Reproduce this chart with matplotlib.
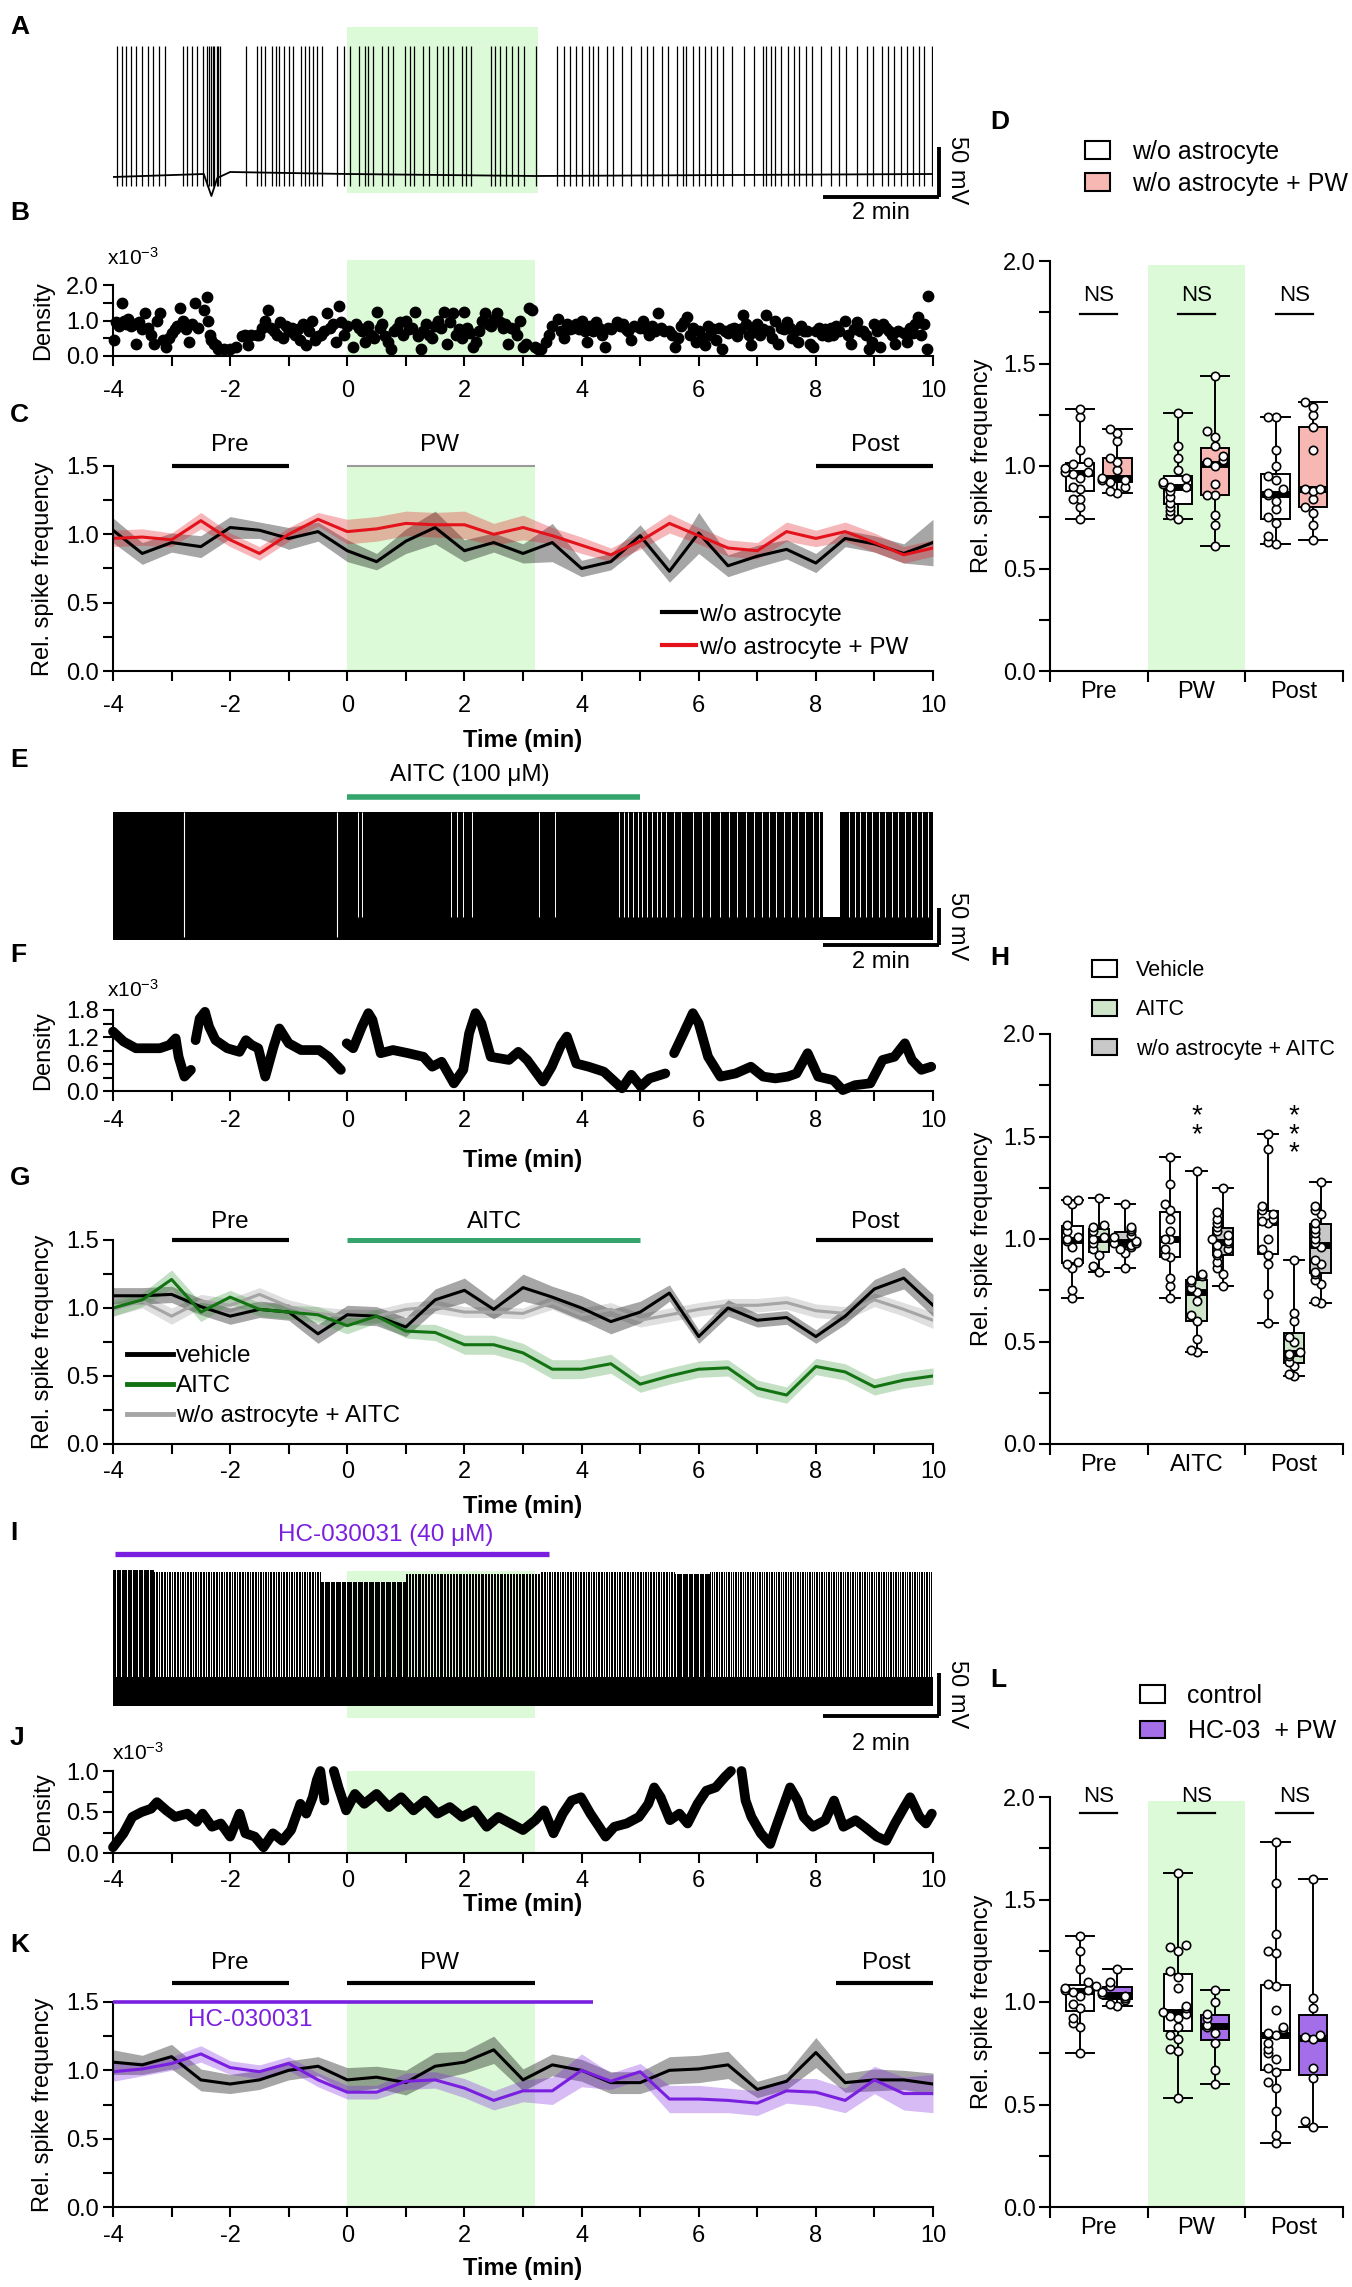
import numpy as np
import matplotlib
matplotlib.use("Agg")
import matplotlib.pyplot as plt
from matplotlib.lines import Line2D
from matplotlib.patches import Patch
from matplotlib.ticker import FormatStrFormatter

plt.rcParams["font.family"] = ["Liberation Sans", "DejaVu Sans"]
plt.rcParams["axes.unicode_minus"] = False
plt.rcParams["mathtext.fontset"] = "custom"
plt.rcParams["mathtext.rm"] = "Liberation Sans"

nan = np.nan

# ---------------- data ----------------
t_bins = [-4, -3.5, -3, -2.5, -2, -1.5, -1, -0.5, 0, 0.5, 1, 1.5, 2, 2.5, 3,
          3.5, 4, 4.5, 5, 5.5, 6, 6.5, 7, 7.5, 8, 8.5, 9, 9.5, 10]

# A: spike times (min) of the example trace, baseline (mV)
a_spikes = [-3.93, -3.85, -3.77, -3.69, -3.61, -3.51, -3.40, -3.32, -3.22, -3.11,
            -2.80, -2.73, -2.65, -2.57, -2.46,
            -2.39, -2.36, -2.33, -2.30, -2.27, -2.23, -2.20, -2.17,
            -1.73, -1.54, -1.47, -1.40, -1.28, -1.21, -1.16, -1.08, -1.00, -0.92,
            -0.79, -0.72, -0.66, -0.58, -0.51, -0.43,
            -0.17, -0.06, 0.04, 0.20, 0.31, 0.36, 0.44, 0.59, 0.69, 0.78, 0.98, 1.07,
            1.14, 1.30, 1.40, 1.53, 1.63, 1.72, 1.80, 1.95, 2.03, 2.11, 2.45, 2.53,
            2.60, 2.71, 2.81, 2.92, 3.02, 3.23,
            3.58, 3.70, 3.81, 3.91, 4.01, 4.12, 4.20, 4.28, 4.43, 4.54, 4.69, 4.85,
            5.01, 5.11, 5.22, 5.37, 5.48, 5.63, 5.74, 5.79, 5.90, 6.00, 6.10, 6.21,
            6.31, 6.42, 6.57, 6.78, 6.94, 7.10, 7.15, 7.23, 7.31, 7.41, 7.52, 7.62,
            7.72, 7.83, 7.93, 8.09, 8.25, 8.40, 8.51, 8.70, 8.87, 8.98, 9.13, 9.24,
            9.34, 9.45, 9.55, 9.66, 9.76, 9.84, 9.98]
a_peak = 64
a_trough = -76
a_base_t = [-4, -2.45, -2.32, -2.22, -2.0, 0, 3.2, 10]
a_base_v = [-67, -64, -86, -68, -62, -64, -66, -64]

# B: spike density (x10^-3)
b_t = [-3.98, -3.95, -3.90, -3.85, -3.82, -3.78, -3.74, -3.70, -3.65, -3.60,
       -3.55, -3.50, -3.45, -3.40, -3.35, -3.30, -3.25, -3.20, -3.15, -3.10,
       -3.05, -3.00, -2.95, -2.90, -2.85, -2.80, -2.75, -2.70, -2.65, -2.60,
       -2.55, -2.45, -2.40, -2.38, -2.35, -2.32, -2.28, -2.25, -2.20, -2.10,
       -2.00, -1.90, -1.80, -1.75, -1.70, -1.65, -1.55, -1.50, -1.45, -1.40,
       -1.35, -1.30, -1.25, -1.20, -1.15, -1.10, -1.05, -1.00, -0.95, -0.90,
       -0.85, -0.80, -0.75, -0.70, -0.65, -0.60, -0.55, -0.50, -0.45, -0.40,
       -0.35, -0.30, -0.25, -0.20, -0.15, -0.10, -0.05, 0.00, 0.10, 0.15,
       0.20, 0.25, 0.30, 0.35, 0.40, 0.45, 0.50, 0.55, 0.60, 0.65,
       0.70, 0.75, 0.80, 0.85, 0.90, 0.95, 1.00, 1.05, 1.10, 1.15,
       1.20, 1.25, 1.30, 1.35, 1.40, 1.45, 1.50, 1.55, 1.60, 1.65,
       1.70, 1.75, 1.80, 1.85, 1.90, 1.95, 2.00, 2.05, 2.10, 2.15,
       2.20, 2.25, 2.30, 2.35, 2.40, 2.45, 2.50, 2.55, 2.60, 2.65,
       2.70, 2.75, 2.80, 2.85, 2.90, 2.95, 3.00, 3.05, 3.10, 3.15,
       3.20, 3.25, 3.30, 3.40, 3.45, 3.50, 3.60, 3.65, 3.70, 3.75,
       3.80, 3.85, 3.90, 3.95, 4.00, 4.05, 4.10, 4.15, 4.20, 4.25,
       4.30, 4.35, 4.40, 4.45, 4.50, 4.60, 4.65, 4.70, 4.75, 4.80,
       4.85, 4.90, 5.00, 5.05, 5.10, 5.15, 5.20, 5.25, 5.30, 5.35,
       5.40, 5.50, 5.55, 5.60, 5.65, 5.70, 5.75, 5.80, 5.85, 5.90,
       5.95, 6.00, 6.05, 6.10, 6.15, 6.20, 6.25, 6.30, 6.35, 6.40,
       6.45, 6.50, 6.55, 6.60, 6.65, 6.70, 6.75, 6.80, 6.85, 6.90,
       6.95, 7.00, 7.05, 7.10, 7.15, 7.20, 7.25, 7.30, 7.35, 7.40,
       7.45, 7.50, 7.55, 7.60, 7.65, 7.70, 7.75, 7.80, 7.85, 7.90,
       7.95, 8.00, 8.05, 8.10, 8.15, 8.20, 8.25, 8.30, 8.35, 8.40,
       8.50, 8.55, 8.60, 8.65, 8.70, 8.75, 8.80, 8.85, 8.90, 8.95,
       9.00, 9.05, 9.10, 9.15, 9.20, 9.25, 9.30, 9.35, 9.40, 9.50,
       9.55, 9.60, 9.65, 9.70, 9.75, 9.80, 9.85, 9.90, 9.92]
b_v = [0.45, 0.95, 0.85, 1.50, 1.00, 0.90, 1.05, 0.85, 0.90, 0.35,
       0.95, 0.75, 1.20, 0.80, 0.60, 0.35, 1.00, 1.20, 0.45, 0.25,
       0.50, 0.65, 0.75, 0.85, 1.35, 1.00, 0.75, 0.40, 0.90, 1.50,
       0.80, 1.30, 1.65, 1.00, 0.60, 0.45, 0.35, 0.30, 0.20, 0.20,
       0.20, 0.25, 0.55, 0.60, 0.30, 0.60, 0.60, 0.60, 0.80, 1.00,
       1.30, 0.80, 0.70, 0.60, 0.95, 0.50, 0.85, 0.70, 0.80, 0.60,
       0.75, 0.45, 0.90, 0.30, 0.70, 1.00, 0.45, 0.55, 0.60, 0.70,
       1.20, 0.80, 0.90, 0.40, 1.40, 0.95, 0.60, 0.85, 0.25, 0.90,
       0.80, 0.70, 0.40, 0.85, 0.60, 0.50, 1.25, 0.80, 0.90, 0.55,
       0.40, 0.20, 0.70, 0.80, 0.95, 0.60, 1.00, 0.75, 0.80, 1.25,
       0.55, 0.20, 0.70, 0.90, 0.60, 0.50, 0.85, 1.00, 0.80, 1.25,
       0.35, 0.95, 1.20, 0.60, 0.75, 0.50, 1.25, 0.80, 0.65, 0.25,
       0.40, 0.70, 1.00, 1.20, 0.90, 0.85, 1.05, 1.20, 0.95, 0.80,
       0.90, 0.35, 0.80, 0.75, 0.60, 1.00, 0.25, 0.35, 1.35, 1.30,
       0.25, 0.20, 0.20, 0.40, 0.60, 0.85, 1.05, 0.70, 0.50, 0.90,
       0.75, 0.80, 0.90, 0.75, 1.00, 0.70, 0.40, 0.85, 0.70, 0.95,
       0.80, 0.60, 0.25, 0.80, 0.75, 0.95, 0.85, 0.90, 0.75, 0.70,
       0.45, 0.85, 0.80, 1.00, 0.75, 0.60, 0.85, 0.70, 1.20, 0.80,
       0.70, 0.70, 0.60, 0.25, 0.50, 0.85, 0.95, 1.10, 0.60, 0.80,
       0.40, 0.70, 0.50, 0.30, 0.85, 0.60, 0.75, 0.45, 0.80, 0.20,
       0.70, 0.65, 0.75, 0.80, 0.55, 0.75, 1.15, 0.90, 0.60, 0.30,
       0.80, 0.90, 0.60, 0.75, 1.15, 0.70, 0.50, 1.00, 0.35, 0.80,
       0.75, 0.95, 0.80, 0.50, 0.70, 0.40, 0.85, 0.70, 0.70, 0.35,
       0.25, 0.70, 0.80, 0.60, 0.75, 0.55, 0.80, 0.60, 0.85, 0.70,
       1.00, 0.60, 0.35, 0.75, 0.95, 0.70, 0.70, 0.60, 0.20, 0.40,
       0.90, 0.70, 0.25, 0.90, 0.80, 0.70, 0.60, 0.35, 0.70, 0.65,
       0.40, 0.80, 0.65, 0.90, 1.10, 0.60, 0.90, 0.20, 1.70]

# C: rel. spike frequency, mean and SEM
c_ctrl = [1.03, 0.86, 0.94, 0.91, 1.05, 1.03, 0.97, 1.02, 0.88, 0.80, 0.95, 1.05, 0.88, 0.94, 0.86,
          0.94, 0.75, 0.80, 0.99, 0.73, 1.01, 0.77, 0.84, 0.89, 0.79, 0.97, 0.93, 0.86, 0.94]
c_ctrl_sem = [0.09, 0.08, 0.07, 0.08, 0.08, 0.06, 0.08, 0.07, 0.08, 0.06, 0.09, 0.12, 0.08, 0.07, 0.07,
              0.14, 0.06, 0.06, 0.08, 0.08, 0.15, 0.08, 0.08, 0.07, 0.07, 0.06, 0.06, 0.07, 0.17]
c_pw = [0.97, 0.98, 0.96, 1.10, 0.96, 0.86, 1.00, 1.11, 1.02, 1.04, 1.08, 1.07, 1.07, 1.00, 1.05,
        0.99, 0.92, 0.85, 0.95, 1.08, 0.99, 0.90, 0.88, 1.02, 0.97, 1.02, 0.94, 0.85, 0.90]
c_pw_sem = [0.06, 0.06, 0.05, 0.06, 0.05, 0.05, 0.05, 0.05, 0.09, 0.09, 0.09, 0.09, 0.10, 0.08, 0.09,
            0.06, 0.06, 0.05, 0.06, 0.07, 0.06, 0.06, 0.06, 0.07, 0.06, 0.07, 0.07, 0.06, 0.06]

# D: box plots
d_cats = ["Pre", "PW", "Post"]
d_ctrl = [[0.74, 0.80, 0.84, 0.84, 0.89, 0.90, 0.94, 0.96, 0.97, 0.97, 0.99, 1.01, 1.02, 1.08, 1.24, 1.28],
          [0.74, 0.76, 0.78, 0.80, 0.82, 0.85, 0.88, 0.90, 0.90, 0.91, 0.92, 0.94, 0.98, 1.04, 1.10, 1.26],
          [0.62, 0.63, 0.66, 0.72, 0.75, 0.79, 0.83, 0.86, 0.87, 0.89, 0.93, 0.95, 1.00, 1.08, 1.24, 1.24]]
d_pw = [[0.87, 0.88, 0.90, 0.92, 0.93, 0.93, 0.94, 0.98, 1.02, 1.04, 1.12, 1.16, 1.18],
        [0.61, 0.71, 0.76, 0.86, 0.86, 0.91, 1.00, 1.02, 1.03, 1.05, 1.10, 1.14, 1.17, 1.44],
        [0.64, 0.71, 0.77, 0.80, 0.84, 0.88, 0.89, 0.89, 1.08, 1.19, 1.25, 1.29, 1.31]]

# E: raw trace (mV): black block with white inter-spike gaps
e_top, e_bottom, e_band_top = 98, -75, -44
e_full_gaps = [-2.78, -0.17]
e_gaps = [0.18, 0.25, 1.77, 1.87, 1.98, 2.13, 3.28, 3.54,
          4.64, 4.72, 4.80, 4.88, 4.96, 5.04, 5.12, 5.20, 5.28, 5.36, 5.44,
          5.58, 5.70, 5.90, 6.05, 6.20, 6.37, 6.52, 6.65, 6.80, 6.94, 7.08, 7.20,
          7.32, 7.45, 7.58, 7.70, 7.82, 7.95, 8.05,
          8.56, 8.66, 8.76, 8.86, 8.96, 9.08, 9.18, 9.30, 9.40, 9.52, 9.62, 9.72, 9.82, 9.92]
e_pause = [8.12, 8.42]

# F: spike density (x10^-3)
f_t = [-4.0, -3.82, -3.61, -3.2, -3.04, -2.93, -2.88, -2.78, -2.67, nan,
       -2.59, -2.52, -2.43, -2.36, -2.25, -2.05, -1.84, -1.73, -1.63, -1.52, -1.4, -1.26, -1.16,
       -1.0, -0.79, -0.48, -0.32, -0.11, nan,
       -0.01, 0.1, 0.25, 0.36, 0.43, 0.57, 0.78, 1.04, 1.3, 1.45, 1.61, 1.82, 1.98, 2.08, 2.19,
       2.29, 2.45, 2.76, 2.92, 3.07, 3.34, 3.49, 3.65, 3.75, 3.91, 4.12, 4.38, 4.69, 4.85, 5.01,
       5.16, 5.43, nan,
       5.58, 5.74, 5.9, 6.0, 6.16, 6.37, 6.63, 6.89, 7.1, 7.31, 7.52, 7.67, 7.86, 8.04, 8.3,
       8.46, 8.67, 8.93, 9.14, 9.34, 9.52, 9.64, 9.8, 9.97]
f_v = [1.32, 1.10, 0.95, 0.95, 1.02, 1.17, 0.76, 0.32, 0.47, nan,
       1.13, 1.61, 1.76, 1.43, 1.13, 0.95, 0.87, 1.13, 1.02, 0.95, 0.32, 0.98, 1.39,
       1.06, 0.91, 0.91, 0.76, 0.47, nan,
       1.06, 0.95, 1.43, 1.73, 1.58, 0.84, 0.91, 0.84, 0.76, 0.54, 0.65, 0.17, 0.47, 1.28, 1.73,
       1.50, 0.76, 0.69, 0.87, 0.69, 0.21, 0.54, 1.02, 1.21, 0.61, 0.54, 0.43, 0.06, 0.36, 0.10,
       0.28, 0.39, nan,
       0.84, 1.28, 1.73, 1.50, 0.76, 0.32, 0.39, 0.54, 0.32, 0.28, 0.32, 0.39, 0.84, 0.32, 0.24,
       0.02, 0.13, 0.17, 0.69, 0.76, 1.06, 0.69, 0.47, 0.54]

# G: rel. spike frequency, mean and SEM
g_veh = [1.09, 1.09, 1.10, 1.01, 0.94, 0.99, 0.97, 0.81, 0.95, 0.94, 0.86, 1.06, 1.13, 0.99, 1.15,
         1.08, 1.00, 0.90, 0.97, 1.11, 0.79, 1.00, 0.91, 0.93, 0.79, 0.94, 1.14, 1.22, 1.02]
g_veh_sem = [0.06, 0.06, 0.06, 0.06, 0.06, 0.06, 0.06, 0.07, 0.07, 0.07, 0.07, 0.08, 0.09, 0.07, 0.10,
             0.08, 0.09, 0.09, 0.08, 0.06, 0.05, 0.06, 0.05, 0.05, 0.05, 0.06, 0.07, 0.08, 0.08]
g_aitc = [1.00, 1.06, 1.21, 0.97, 1.08, 0.99, 0.97, 0.95, 0.87, 0.94, 0.83, 0.82, 0.73, 0.73, 0.67,
          0.55, 0.55, 0.59, 0.44, 0.50, 0.55, 0.56, 0.41, 0.36, 0.57, 0.53, 0.42, 0.47, 0.50]
g_aitc_sem = [0.06, 0.05, 0.07, 0.07, 0.05, 0.05, 0.05, 0.06, 0.06, 0.05, 0.05, 0.06, 0.07, 0.07, 0.07,
              0.07, 0.07, 0.07, 0.06, 0.06, 0.06, 0.06, 0.06, 0.06, 0.06, 0.06, 0.06, 0.06, 0.06]
g_wo = [0.99, 1.05, 0.94, 1.05, 1.02, 1.10, 1.01, 0.96, 0.94, 0.94, 0.99, 1.01, 0.97, 0.97, 0.96,
        1.04, 0.95, 0.99, 0.91, 0.95, 0.99, 1.02, 1.02, 1.04, 0.98, 0.96, 1.06, 0.99, 0.91]
g_wo_sem = [0.05, 0.05, 0.06, 0.05, 0.05, 0.05, 0.05, 0.05, 0.05, 0.05, 0.05, 0.05, 0.04, 0.04, 0.04,
            0.05, 0.05, 0.05, 0.05, 0.05, 0.05, 0.05, 0.05, 0.05, 0.05, 0.05, 0.05, 0.05, 0.06]

# H: box plots
h_cats = ["Pre", "AITC", "Post"]
h_veh = [[0.71, 0.75, 0.86, 0.88, 0.89, 0.96, 0.99, 1.00, 1.01, 1.04, 1.07, 1.17, 1.19, 1.19],
         [0.71, 0.77, 0.81, 0.91, 0.92, 0.95, 1.00, 1.00, 1.04, 1.10, 1.14, 1.17, 1.27, 1.40],
         [0.59, 0.73, 0.88, 0.92, 0.95, 1.00, 1.08, 1.09, 1.10, 1.12, 1.14, 1.16, 1.44, 1.51]]
h_aitc = [[0.84, 0.87, 0.92, 0.95, 0.98, 1.00, 1.01, 1.04, 1.06, 1.07, 1.20],
          [0.45, 0.46, 0.51, 0.60, 0.63, 0.70, 0.74, 0.76, 0.79, 0.80, 0.82, 0.83, 1.33],
          [0.33, 0.34, 0.38, 0.40, 0.43, 0.44, 0.45, 0.50, 0.52, 0.60, 0.64, 0.90]]
h_wo = [[0.86, 0.93, 0.95, 0.96, 0.97, 0.98, 0.98, 0.99, 1.01, 1.02, 1.04, 1.05, 1.06, 1.17],
        [0.77, 0.83, 0.86, 0.89, 0.92, 0.93, 0.95, 0.97, 0.98, 0.99, 1.00, 1.02, 1.04, 1.06, 1.08,
         1.10, 1.13, 1.25],
        [0.69, 0.70, 0.78, 0.80, 0.83, 0.84, 0.88, 0.90, 0.96, 0.98, 1.00, 1.03, 1.05, 1.08, 1.12,
         1.14, 1.16, 1.28]]
h_stars = ["", "**", "***"]

# I: raw trace, spike segments (start, end, spikes/min, peak mV)
i_seg_start = [-4.0, -3.3, -0.45, 1.0, 3.3, 5.6, 6.2]
i_seg_end = [-3.3, -0.45, 1.0, 3.3, 5.6, 6.2, 10.0]
i_seg_rate = [48, 36, 48, 40, 36, 48, 34]
i_seg_peak = [88, 86, 74, 84, 86, 84, 86]
i_band = [-70, -36]

# J: spike density (x10^-3)
j_t = [-4, -3.82, -3.67, -3.51, -3.35, -3.25, -3.09, -2.94, -2.73, -2.57,
       -2.47, -2.31, -2.16, -2.0, -1.84, -1.74, -1.58, -1.43, -1.27, -1.11,
       -0.96, -0.8, -0.7, -0.59, -0.52, -0.46, -0.39, nan,
       -0.23, -0.15, -0.02, 0.13, 0.29, 0.5, 0.71, 0.92, 1.13, 1.33,
       1.54, 1.75, 1.96, 2.17, 2.38, 2.58, 2.79, 3.0, 3.21, 3.36,
       3.52, 3.68, 3.83, 3.99, 4.15, 4.3, 4.41, 4.56, 4.77, 4.98,
       5.14, 5.24, 5.35, 5.51, 5.67, 5.81, 5.98, 6.13, 6.29, 6.45, 6.55, nan,
       6.73, 6.8, 6.9, 7.06, 7.22, 7.32, 7.42, 7.56, 7.69, 7.79,
       7.95, 8.16, 8.31, 8.47, 8.68, 8.83, 9.04, 9.2, 9.35, 9.51,
       9.61, 9.77, 9.88, 9.98]
j_v = [0.07, 0.24, 0.44, 0.5, 0.54, 0.62, 0.52, 0.44, 0.48, 0.38,
       0.48, 0.32, 0.36, 0.2, 0.48, 0.24, 0.2, 0.07, 0.24, 0.15,
       0.28, 0.6, 0.48, 0.68, 0.89, 1.0, 0.64, nan,
       1.0, 0.8, 0.52, 0.72, 0.6, 0.72, 0.56, 0.68, 0.52, 0.64,
       0.48, 0.56, 0.44, 0.52, 0.32, 0.44, 0.36, 0.28, 0.4, 0.52,
       0.24, 0.48, 0.64, 0.68, 0.48, 0.32, 0.2, 0.32, 0.36, 0.44,
       0.6, 0.8, 0.68, 0.4, 0.48, 0.36, 0.6, 0.76, 0.8, 0.93, 1.0, nan,
       1.0, 0.64, 0.44, 0.24, 0.11, 0.32, 0.52, 0.8, 0.64, 0.44,
       0.32, 0.4, 0.64, 0.32, 0.4, 0.32, 0.2, 0.15, 0.36, 0.56,
       0.68, 0.44, 0.36, 0.48]

# K: rel. spike frequency, mean and SEM
k_ctrl = [1.06, 1.04, 1.10, 0.93, 0.90, 0.93, 1.00, 1.03, 0.93, 0.95, 0.91, 1.03, 1.06, 1.15, 0.93,
          1.04, 1.00, 0.91, 0.91, 1.00, 1.01, 1.04, 0.86, 0.92, 1.13, 0.91, 0.93, 0.93, 0.90]
k_ctrl_sem = [0.09, 0.07, 0.09, 0.08, 0.07, 0.07, 0.07, 0.07, 0.09, 0.08, 0.09, 0.10, 0.08, 0.10, 0.08,
              0.08, 0.08, 0.08, 0.08, 0.10, 0.10, 0.10, 0.06, 0.06, 0.11, 0.07, 0.08, 0.07, 0.08]
k_hc = [0.99, 1.01, 1.05, 1.12, 1.02, 0.99, 1.05, 0.93, 0.84, 0.84, 0.92, 0.93, 0.87, 0.78, 0.85,
        0.85, 1.00, 0.92, 0.99, 0.79, 0.79, 0.78, 0.76, 0.85, 0.84, 0.78, 0.93, 0.83, 0.83]
k_hc_sem = [0.07, 0.05, 0.05, 0.06, 0.05, 0.05, 0.05, 0.05, 0.05, 0.05, 0.06, 0.06, 0.07, 0.07, 0.08,
            0.10, 0.12, 0.06, 0.06, 0.10, 0.10, 0.09, 0.09, 0.09, 0.10, 0.09, 0.10, 0.12, 0.14]

# L: box plots
l_cats = ["Pre", "PW", "Post"]
l_ctrl = [[0.75, 0.88, 0.90, 0.92, 0.97, 0.99, 1.03, 1.05, 1.06, 1.06, 1.07, 1.08, 1.10, 1.16, 1.25, 1.32],
          [0.53, 0.76, 0.77, 0.82, 0.84, 0.88, 0.92, 0.93, 0.94, 0.95, 0.97, 0.98, 1.07, 1.12, 1.15,
           1.25, 1.27, 1.28, 1.63],
          [0.31, 0.35, 0.47, 0.58, 0.61, 0.66, 0.68, 0.72, 0.75, 0.77, 0.80, 0.84, 0.85, 0.87, 0.88,
           0.96, 1.08, 1.09, 1.24, 1.25, 1.33, 1.58, 1.78]]
l_hc = [[0.98, 0.99, 1.01, 1.02, 1.03, 1.04, 1.05, 1.08, 1.10, 1.16],
        [0.60, 0.67, 0.80, 0.85, 0.88, 0.89, 0.92, 0.94, 1.00, 1.06],
        [0.39, 0.42, 0.63, 0.68, 0.82, 0.83, 0.84, 0.97, 1.02, 1.60]]

# epochs (min)
pre_span = [-3, -1]
pw_span = [0, 3.2]
post_span = [8, 10]
aitc_span = [0, 5]
k_post_span = [8.35, 10]
hc_span_i = [-3.97, 3.45]
hc_span_k = [-4, 4.19]

# ---------------- style ----------------
SHADE = "#dcfad7"
RED = "#e3121b"
GREEN = "#137313"
AITC_BAR = "#35a46d"
GREY = "#a5a5a5"
PURPLE = "#7a1fe0"
PINK = "#f7b8b3"
HGREEN = "#cfe6ca"
HGREY = "#c8c8c8"
LPURPLE = "#a46ee8"
FS = 17

W, H = 1352, 2287
fig = plt.figure(figsize=(W / 100, H / 100), dpi=100)


def add_ax(x0, y0, x1, y1):
    return fig.add_axes([x0 / W, 1 - y1 / H, (x1 - x0) / W, (y1 - y0) / H])


def ftext(xp, yp, s, **kw):
    fig.text(xp / W, 1 - yp / H, s, **kw)


def style_time(ax, ymax, yticks, yminor, xpad):
    ax.set_xlim(-4, 10)
    ax.set_ylim(0, ymax)
    ax.set_facecolor("none")
    for s in ("top", "right"):
        ax.spines[s].set_visible(False)
    for s in ("left", "bottom"):
        ax.spines[s].set_linewidth(1.5)
    ax.set_xticks([-4, -2, 0, 2, 4, 6, 8, 10])
    ax.set_xticks([-3, -1, 1, 3, 5, 7, 9], minor=True)
    ax.set_yticks(yticks)
    ax.set_yticks(yminor, minor=True)
    ax.yaxis.set_major_formatter(FormatStrFormatter("%.1f"))
    ax.tick_params(which="both", direction="out", length=7, width=1.5, labelsize=FS)
    ax.tick_params(axis="x", pad=xpad)
    ax.tick_params(axis="y", pad=3)


def ylab(ax, text, x_px, left_px, right_px):
    ax.set_ylabel(text, fontsize=FS)
    ax.yaxis.set_label_coords((x_px - left_px) / (right_px - left_px), 0.5)


def xlab(ax, y_px, top_px, bot_px):
    ax.set_xlabel("Time (min)", fontsize=FS, fontweight="bold")
    ax.xaxis.label.set_va("center")
    ax.xaxis.set_label_coords(0.5, (bot_px - y_px) / (bot_px - top_px))


def epoch_bar(ax, span, y, color="black", lw=3):
    ax.plot(span, [y, y], color=color, lw=lw, solid_capstyle="butt", clip_on=False, zorder=5)


def mean_sem(ax, y, sem, color, band_alpha, lw=2.2, band_color=None):
    y = np.array(y)
    sem = np.array(sem)
    ax.fill_between(t_bins, y - sem, y + sem, color=band_color or color, alpha=band_alpha, lw=0, zorder=1)
    ax.plot(t_bins, y, color=color, lw=lw, zorder=2)


def swarm_x(vals, center, step, tol=0.035):
    slots = [0, -1, 1, -2, 2]
    xs, seen = [], []
    for v in vals:
        k = sum(abs(v - s) < tol for s in seen)
        xs.append(center + slots[k % 5] * step)
        seen.append(v)
    return xs


def style_box(ax, cats, shade=True):
    ax.set_xlim(-0.5, 2.5)
    ax.set_ylim(0, 2)
    ax.set_facecolor("none")
    for s in ("top", "right"):
        ax.spines[s].set_visible(False)
    for s in ("left", "bottom"):
        ax.spines[s].set_linewidth(1.5)
    ax.set_xticks([-0.5, 0.5, 1.5, 2.5])
    ax.set_xticklabels([])
    ax.set_xticks([0, 1, 2], minor=True)
    ax.set_xticklabels(cats, minor=True)
    ax.tick_params(axis="x", which="major", length=8, width=1.5)
    ax.tick_params(axis="x", which="minor", length=0, pad=7, labelsize=FS)
    ax.set_yticks([0, 0.5, 1.0, 1.5, 2.0])
    ax.set_yticks([0.25, 0.75, 1.25, 1.75], minor=True)
    ax.yaxis.set_major_formatter(FormatStrFormatter("%.1f"))
    ax.tick_params(axis="y", which="both", length=8, width=1.5, labelsize=FS, pad=2)
    if shade:
        ax.axvspan(0.5, 1.5, ymax=0.99, color=SHADE, lw=0, zorder=0)


def draw_groups(ax, groups, offsets, faces, width):
    for gi, group in enumerate(groups):
        for ci, vals in enumerate(group):
            pos = ci + offsets[gi]
            ax.boxplot([vals], positions=[pos], widths=width, whis=(0, 100), patch_artist=True,
                       showfliers=False, manage_ticks=False, capwidths=width,
                       boxprops=dict(facecolor=faces[gi], edgecolor="black", linewidth=1.4),
                       whiskerprops=dict(color="black", linewidth=1.4),
                       capprops=dict(color="black", linewidth=1.4),
                       medianprops=dict(color="black", linewidth=5, solid_capstyle="butt"),
                       zorder=2)
            ax.plot(swarm_x(vals, pos, width * 0.27), vals, "o", ms=6, mfc="white", mec="black",
                    mew=1.2, zorder=4, clip_on=False)


def ns_marks(ax, y_text, y_line, off):
    for c in range(3):
        ax.plot([c - off, c + off], [y_line, y_line], color="black", lw=1.6)
        ax.text(c, y_text, "NS", ha="center", va="center", fontsize=16)


def scale_bars(ax, t0, t1, y0, y1, y_txt, x_txt, y_txt_v):
    ax.plot([t0, t1], [y0, y0], color="black", lw=2.8, solid_capstyle="butt", clip_on=False)
    ax.plot([t1, t1], [y0, y1], color="black", lw=2.8, solid_capstyle="butt", clip_on=False)
    ax.text((t0 + t1) / 2, y_txt, "2 min", ha="center", va="center", fontsize=FS)
    ax.text(x_txt, y_txt_v, "50 mV", rotation=270, ha="left", va="center", fontsize=FS, clip_on=False)


# panel letters
for lab, xp, yp in [("A", 10, 27), ("B", 10, 213), ("C", 10, 415), ("E", 10, 760), ("F", 10, 955),
                    ("G", 10, 1178), ("I", 10, 1533), ("J", 10, 1738), ("K", 10, 1945),
                    ("D", 990, 122), ("H", 990, 958), ("L", 990, 1680)]:
    ftext(xp, yp, lab, fontsize=19, fontweight="bold", ha="left", va="center")

# ---- A ----
axA = add_ax(113, 15, 933, 225)       # 1 px per mV, baseline -65 mV at 175 px
axA.set_xlim(-4, 10)
axA.set_ylim(-115, 95)
axA.axis("off")
axA.axvspan(pw_span[0], 3.25, ymin=32 / 210, ymax=198 / 210, color=SHADE, lw=0, zorder=0)
axA.plot(a_base_t, a_base_v, color="black", lw=1.3)
axA.vlines(a_spikes, a_trough, a_peak, color="black", lw=0.9)
scale_bars(axA, 8.12, 10.1, -87, -37, -103, 10.22, -60)

# ---- B ----
axB = add_ax(113, 285, 933, 356)
style_time(axB, 2.0, [0, 1, 2], [0.5, 1.5], 10)
axB.axvspan(pw_span[0], pw_span[1], ymax=1.35, color=SHADE, lw=0, zorder=0, clip_on=False)
axB.plot(b_t, b_v, "o", color="black", ms=7.5, zorder=3, clip_on=False)
ylab(axB, "Density", 54, 113, 933)
ftext(107, 258, r"$\mathregular{x10^{-3}}$", fontsize=15, ha="left", va="center")

# ---- C ----
axC = add_ax(113, 466, 933, 671)
style_time(axC, 1.5, [0, 0.5, 1.0, 1.5], [0.25, 0.75, 1.25], 10)
axC.axvspan(pw_span[0], pw_span[1], color=SHADE, lw=0, zorder=0)
epoch_bar(axC, pw_span, 1.5, color="#9a9a9a", lw=1.5)
epoch_bar(axC, pre_span, 1.5)
epoch_bar(axC, post_span, 1.5)
for txt, xc in [("Pre", -2.0), ("PW", 1.58), ("Post", 9.02)]:
    axC.text(xc, 1.65, txt, ha="center", va="center", fontsize=17.5)
mean_sem(axC, c_ctrl, c_ctrl_sem, "black", 0.35)
mean_sem(axC, c_pw, c_pw_sem, RED, 0.3)
axC.legend([Line2D([], [], color="black", lw=3), Line2D([], [], color=RED, lw=3)],
           ["w/o astrocyte", "w/o astrocyte + PW"], loc="lower left", bbox_to_anchor=(0.669, 0.06),
           frameon=False, fontsize=17.5, handlelength=1.4, handletextpad=0.15, labelspacing=0.45,
           borderaxespad=0, borderpad=0)
ylab(axC, "Rel. spike frequency", 54, 113, 933)
xlab(axC, 741, 466, 671)

# ---- D ----
axD = add_ax(1050, 261, 1343, 671)
style_box(axD, d_cats)
draw_groups(axD, [d_ctrl, d_pw], [-0.19, 0.19], ["white", PINK], 0.29)
ns_marks(axD, 1.83, 1.74, 0.19)
ylab(axD, "Rel. spike frequency", 993, 1050, 1343)
fig.legend([Patch(facecolor="white", edgecolor="black", lw=1.5), Patch(facecolor=PINK, edgecolor="black", lw=1.5)],
           ["w/o astrocyte", "w/o astrocyte + PW"], loc="upper left", bbox_to_anchor=(1085 / W, 1 - 140 / H),
           frameon=False, fontsize=18, handlelength=1.0, handleheight=0.72, handletextpad=0.9,
           labelspacing=0.3, borderaxespad=0, borderpad=0)

# ---- E ----
axE = add_ax(113, 760, 933, 990)      # 0.74 px per mV, -75 mV at 940 px
axE.set_xlim(-4, 10)
axE.set_ylim(-142.6, 168.2)
axE.axis("off")
axE.fill_between([-4, 10], e_bottom, e_top, color="black", lw=0)
axE.vlines(e_full_gaps, e_bottom + 4, e_top, color="white", lw=0.8)
axE.vlines(e_gaps, e_band_top, e_top, color="white", lw=0.7)
axE.fill_between(e_pause, e_band_top, e_top + 2, color="white", lw=0)
epoch_bar(axE, aitc_span, 118, color=AITC_BAR, lw=4)
axE.text(2.1, 148, "AITC (100 μM)", ha="center", va="center", fontsize=17.5)
scale_bars(axE, 8.12, 10.1, -81.8, -31.8, -104.7, 10.22, -56)

# ---- F ----
axF = add_ax(113, 1010, 933, 1091)
style_time(axF, 1.8, [0, 0.6, 1.2, 1.8], [0.3, 0.9, 1.5], 7)
axF.plot(f_t, f_v, color="black", lw=7, solid_capstyle="round", solid_joinstyle="round", clip_on=False)
ylab(axF, "Density", 54, 113, 933)
ftext(107, 990, r"$\mathregular{x10^{-3}}$", fontsize=15, ha="left", va="center")
xlab(axF, 1160, 1010, 1091)

# ---- G ----
axG = add_ax(113, 1240, 933, 1444)
style_time(axG, 1.5, [0, 0.5, 1.0, 1.5], [0.25, 0.75, 1.25], 5)
epoch_bar(axG, pre_span, 1.5)
epoch_bar(axG, aitc_span, 1.5, color=AITC_BAR, lw=3.6)
epoch_bar(axG, post_span, 1.5)
for txt, xc in [("Pre", -2.0), ("AITC", 2.52), ("Post", 9.02)]:
    axG.text(xc, 1.63, txt, ha="center", va="center", fontsize=17.5)
mean_sem(axG, g_wo, g_wo_sem, GREY, 0.35)
mean_sem(axG, g_veh, g_veh_sem, "black", 0.35)
mean_sem(axG, g_aitc, g_aitc_sem, GREEN, 0.3, band_color="#3c9a3c")
axG.legend([Line2D([], [], color="black", lw=3.5), Line2D([], [], color=GREEN, lw=3.5),
            Line2D([], [], color=GREY, lw=3.5)],
           ["vehicle", "AITC", "w/o astrocyte + AITC"], loc="upper left", bbox_to_anchor=(0.017, 0.485),
           frameon=False, fontsize=17.5, handlelength=1.9, handletextpad=0.12, labelspacing=0.33,
           borderaxespad=0, borderpad=0)
ylab(axG, "Rel. spike frequency", 54, 113, 933)
xlab(axG, 1507, 1240, 1444)

# ---- H ----
axH = add_ax(1050, 1034, 1343, 1444)
style_box(axH, h_cats, shade=False)
draw_groups(axH, [h_veh, h_aitc, h_wo], [-0.27, 0.0, 0.27], ["white", HGREEN, HGREY], 0.21)
for c, st in enumerate(h_stars):
    if st:
        axH.text(c, 1.66, "\n".join(st), ha="center", va="top", fontsize=20, linespacing=0.62)
ylab(axH, "Rel. spike frequency", 993, 1050, 1343)
fig.legend([Patch(facecolor="white", edgecolor="black", lw=1.5), Patch(facecolor=HGREEN, edgecolor="black", lw=1.5),
            Patch(facecolor=HGREY, edgecolor="black", lw=1.5)],
           ["Vehicle", "AITC", "w/o astrocyte + AITC"], loc="upper left",
           bbox_to_anchor=(1092 / W, 1 - 960 / H), frameon=False, fontsize=15.5, handlelength=1.15,
           handleheight=0.8, handletextpad=0.9, labelspacing=0.85, borderaxespad=0, borderpad=0)

# ---- I ----
axI = add_ax(113, 1530, 933, 1760)    # 0.82 px per mV, -70 mV at 1708 px
axI.set_xlim(-4, 10)
axI.set_ylim(-133.4, 134.9)
axI.axis("off")
axI.axvspan(pw_span[0], pw_span[1], ymin=(1760 - 1718) / 230, ymax=(1760 - 1571) / 230, color=SHADE, lw=0, zorder=0)
axI.fill_between([-4, 10], i_band[0], i_band[1], color="black", lw=0)
for t0, t1, rate, peak in zip(i_seg_start, i_seg_end, i_seg_rate, i_seg_peak):
    axI.vlines(np.arange(t0, t1, 1.0 / rate), i_band[0] + 5, peak, color="black", lw=0.6,
               antialiased=False)
epoch_bar(axI, hc_span_i, 106.8, color=PURPLE, lw=3.8)
axI.text(0.65, 128.8, "HC-030031 (40 μM)", ha="center", va="center", fontsize=17.5, color=PURPLE)
scale_bars(axI, 8.12, 10.1, -82.2, -32.2, -115, 10.22, -57)

# ---- J ----
axJ = add_ax(113, 1771, 933, 1853)
style_time(axJ, 1.0, [0, 0.5, 1.0], [0.25, 0.75], 5)
axJ.axvspan(pw_span[0], pw_span[1], color=SHADE, lw=0, zorder=0)
axJ.plot(j_t, j_v, color="black", lw=7, solid_capstyle="round", solid_joinstyle="round", clip_on=False)
ylab(axJ, "Density", 54, 113, 933)
ftext(112, 1753, r"$\mathregular{x10^{-3}}$", fontsize=15, ha="left", va="center")
xlab(axJ, 1904, 1771, 1853)

# ---- K ----
axK = add_ax(113, 2002, 933, 2207)
style_time(axK, 1.5, [0, 0.5, 1.0, 1.5], [0.25, 0.75, 1.25], 6)
axK.axvspan(pw_span[0], pw_span[1], color=SHADE, lw=0, zorder=0)
epoch_bar(axK, pre_span, 1.64)
epoch_bar(axK, pw_span, 1.64)
epoch_bar(axK, k_post_span, 1.64)
for txt, xc in [("Pre", -2.0), ("PW", 1.58), ("Post", 9.2)]:
    axK.text(xc, 1.785, txt, ha="center", va="center", fontsize=17.5)
epoch_bar(axK, hc_span_k, 1.5, color=PURPLE, lw=2.6)
axK.text(-1.65, 1.37, "HC-030031", ha="center", va="center", fontsize=17.5, color=PURPLE)
mean_sem(axK, k_ctrl, k_ctrl_sem, "black", 0.35)
mean_sem(axK, k_hc, k_hc_sem, PURPLE, 0.3)
ylab(axK, "Rel. spike frequency", 54, 113, 933)
xlab(axK, 2268, 2002, 2207)

# ---- L ----
axL = add_ax(1050, 1797, 1343, 2207)
style_box(axL, l_cats)
draw_groups(axL, [l_ctrl, l_hc], [-0.19, 0.19], ["white", LPURPLE], 0.29)
ns_marks(axL, 2.0, 1.92, 0.19)
ylab(axL, "Rel. spike frequency", 993, 1050, 1343)
fig.legend([Patch(facecolor="white", edgecolor="black", lw=1.5), Patch(facecolor=LPURPLE, edgecolor="black", lw=1.5)],
           ["control", "HC-03  + PW"], loc="upper left", bbox_to_anchor=(1140 / W, 1 - 1684 / H),
           frameon=False, fontsize=18, handlelength=1.0, handleheight=0.72, handletextpad=0.9,
           labelspacing=0.45, borderaxespad=0, borderpad=0)

fig.savefig("out.png", dpi=100)
